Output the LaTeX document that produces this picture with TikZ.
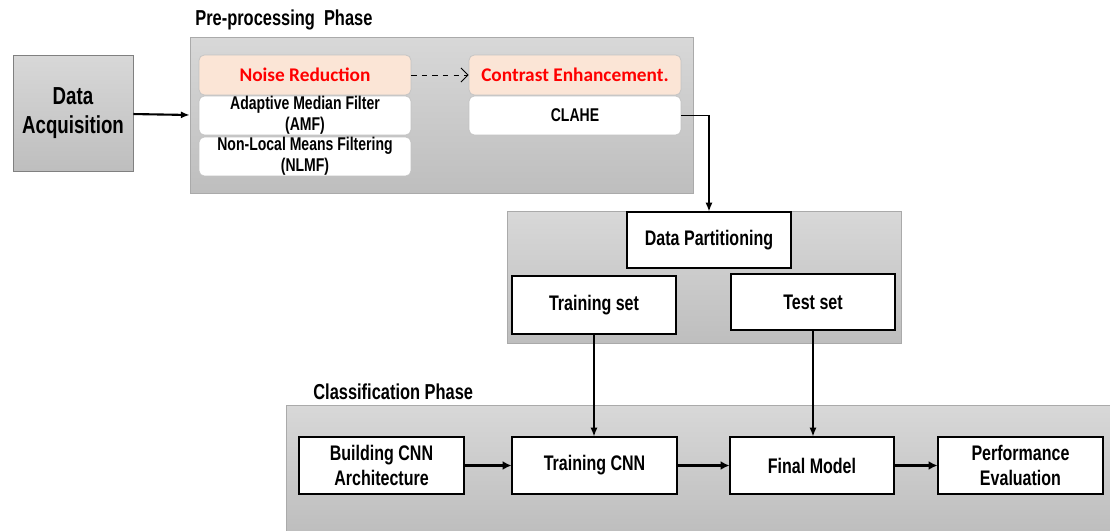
\documentclass[tikz,border=0pt]{standalone}
\usepackage{fontspec}
\setmainfont{Liberation Sans}[FakeStretch=0.76]
\newfontfamily\calib{Carlito}
\usetikzlibrary{positioning, arrows.meta}
\definecolor{paneltop}{RGB}{216,216,216}
\definecolor{panelbot}{RGB}{190,190,190}
\definecolor{peach}{RGB}{251,229,214}
\definecolor{rimgray}{RGB}{170,170,170}

\begin{document}
\begin{tikzpicture}[x=0.02cm, y=-0.02cm, font=\bfseries,
		 panel/.style={draw=rimgray, top color=paneltop, bottom color=panelbot, inner sep=0pt},
		 head/.style={fill=peach, draw=rimgray!70, rounded corners=3pt, minimum width=4.24cm, minimum height=0.8cm, text=red, font=\calib\bfseries\fontsize{11}{12}\selectfont},
		 sub/.style={fill=white, draw=rimgray!70, rounded corners=3pt, minimum width=4.24cm, minimum height=0.78cm, inner ysep=0pt, align=center, font=\bfseries\fontsize{10.5}{11.8}\selectfont},
		 stage/.style={fill=white, draw=black, line width=0.6pt, minimum width=3.28cm, minimum height=1.14cm, align=center, font=\bfseries\fontsize{12}{14.5}\selectfont},
		 phase/.style={anchor=west, inner sep=0pt, font=\bfseries\fontsize{12.3}{14}\selectfont},
		 flow/.style={-{Latex[length=5pt, width=4pt]}, line width=0.8pt},
		 thick flow/.style={-{Latex[length=5pt, width=5pt]}, line width=1.5pt} ]
		\useasboundingbox (0,0) rectangle (1110,531);
		% phase panels
		\node[panel, minimum width=10.06cm, minimum height=3.12cm] (pre) at (441.5,115) {};
		\node[panel, minimum width=7.88cm, minimum height=2.64cm] (part) at (704,277) {};
		\node[panel, minimum width=16.48cm, minimum height=2.52cm] (cls) at (698,468) {};
		\node[phase] (prelabel) at (195,20) {Pre-processing\ \ Phase};
		\node[phase] (clslabel) at (313,392) {Classification Phase};

		\node[panel, draw=gray, minimum width=2.4cm, minimum height=2.32cm, align=center, font=\bfseries\fontsize{14}{16.5}\selectfont] (acq) at (73,113) {Data\\Acquisition};

		\node[head] (noise) at (305,75) {Noise Reduction};
		\node[sub] (nlmf) at (305,156.5) {Non-Local Means Filtering\\(NLMF)};
		\node[sub] (amf) at (305,115.5) {Adaptive Median Filter\\(AMF)};
		\node[head] (contrast) at (575,75) {Contrast Enhancement.};
		\node[sub] (clahe) at (575,115.5) {CLAHE};

		\node[stage, minimum height=1.12cm] (dpart) at (709,240) {Data Partitioning};
		\node[stage, minimum height=1.16cm] (train) at (594,305) {Training set};
		\node[stage, minimum height=1.12cm] (test) at (813,302) {Test set};

		\node[stage, minimum width=3.3cm] (build) at (381.5,465.5) {Building CNN\\Architecture};
		\node[stage, minimum width=3.3cm] (tcnn) at (594.5,465.5) {Training CNN};
		\node[stage, minimum width=3.28cm] (final) at (812,465.5) {Final Model};
		\node[stage, minimum width=3.3cm] (perf) at (1020.5,465.5) {Performance\\Evaluation};

		\draw[flow, line width=1.2pt] (acq) -- (pre.west);
		\draw[dashed, -{Straight Barb[length=4pt]}, line width=0.5pt] (noise) -- (contrast);
		\draw[flow] (clahe.east) -| (dpart.north);
		\draw[flow] (train.south) -- (train.south |- tcnn.north);
		\draw[flow] (test.south) -- (test.south |- final.north);
		\draw[thick flow] (build) -- (tcnn);
		\draw[thick flow] (tcnn) -- (final);
		\draw[thick flow] (final) -- (perf);
	\end{tikzpicture}
\end{document}
